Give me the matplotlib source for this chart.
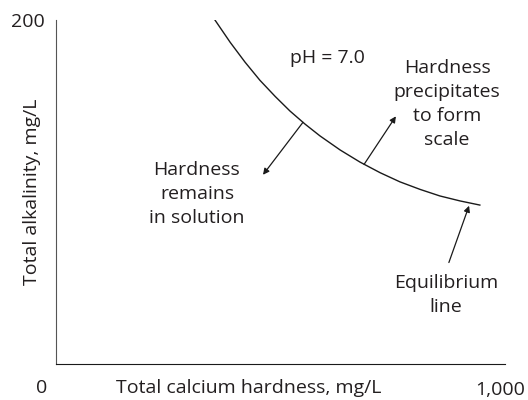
import matplotlib
matplotlib.use("Agg")
from matplotlib import pyplot as plt
from matplotlib.transforms import ScaledTranslation

# equilibrium line (calcium hardness, alkalinity)
hardness = [354, 388, 421, 454, 488, 521, 555, 588, 633, 677,
            722, 766, 811, 855, 900, 944]
alkalinity = [200, 187, 175.5, 165, 155.6, 147.1, 139.4, 132.6, 124.4,
              117.4, 111.2, 105.9, 101.5, 97.7, 94.8, 92.4]

x_ticks = [1000]
x_tick_labels = ["1,000"]
y_ticks = [200]
y_tick_labels = ["200"]

# arrows: (tail x, tail y, head x, head y)
arrow_remains = (550, 140.5, 461, 110)
arrow_precip = (686, 116, 757, 144)
arrow_equil = (875, 59, 920, 92)

TXT = "#231f20"
FS = 14


def main():
    plt.rcParams["font.family"] = ["Open Sans", "DejaVu Sans"]
    fig = plt.figure(figsize=(5.28, 4.0), dpi=100)
    ax = fig.add_axes([56 / 528, 36 / 400, 449 / 528, 344 / 400])

    ax.plot(hardness, alkalinity, color="#1a1a1a", lw=1.0)
    ax.set_xlim(0, 1000)
    ax.set_ylim(0, 200)

    for s in ["top", "right"]:
        ax.spines[s].set_visible(False)
    ax.spines["left"].set_color("#555555")
    ax.spines["bottom"].set_color("#1a1a1a")

    ax.set_xticks(x_ticks, x_tick_labels)
    ax.set_yticks(y_ticks, y_tick_labels)
    ax.tick_params(length=0, labelsize=FS, labelcolor=TXT)
    ax.tick_params(axis="x", pad=12)
    ax.tick_params(axis="y", pad=8)
    # "1,000" sits flush with the right edge of the picture
    shift = ScaledTranslation(20 / 100, 0, fig.dpi_scale_trans)
    for lbl in ax.get_xticklabels():
        lbl.set_ha("right")
        lbl.set_transform(lbl.get_transform() + shift)
    ax.text(-0.031, -0.07, "0", transform=ax.transAxes, ha="center",
            va="center", fontsize=FS, color=TXT)

    ax.set_xlabel("Total calcium hardness, mg/L", fontsize=FS, color=TXT,
                  va="center")
    ax.xaxis.set_label_coords(0.43, -0.07)
    ax.set_ylabel("Total alkalinity, mg/L", fontsize=FS, color=TXT,
                  va="center")
    ax.yaxis.set_label_coords(-0.053, 0.5)

    for a in [arrow_remains, arrow_precip, arrow_equil]:
        ax.annotate("", xy=(a[2], a[3]), xytext=(a[0], a[1]),
                    arrowprops=dict(arrowstyle="-|>", color="#1a1a1a",
                                    lw=0.9, mutation_scale=9,
                                    shrinkA=0, shrinkB=0))

    kw = dict(ha="center", va="center", fontsize=FS, color=TXT,
              linespacing=1.42)
    ax.text(604, 178, "pH = 7.0", **kw)
    ax.text(871, 151, "Hardness\nprecipitates\nto form\nscale", **kw)
    ax.text(314, 99, "Hardness\nremains\nin solution", **kw)
    ax.text(869, 40, "Equilibrium\nline", **kw)

    fig.savefig("out.png", dpi=100)


if __name__ == "__main__":
    main()
